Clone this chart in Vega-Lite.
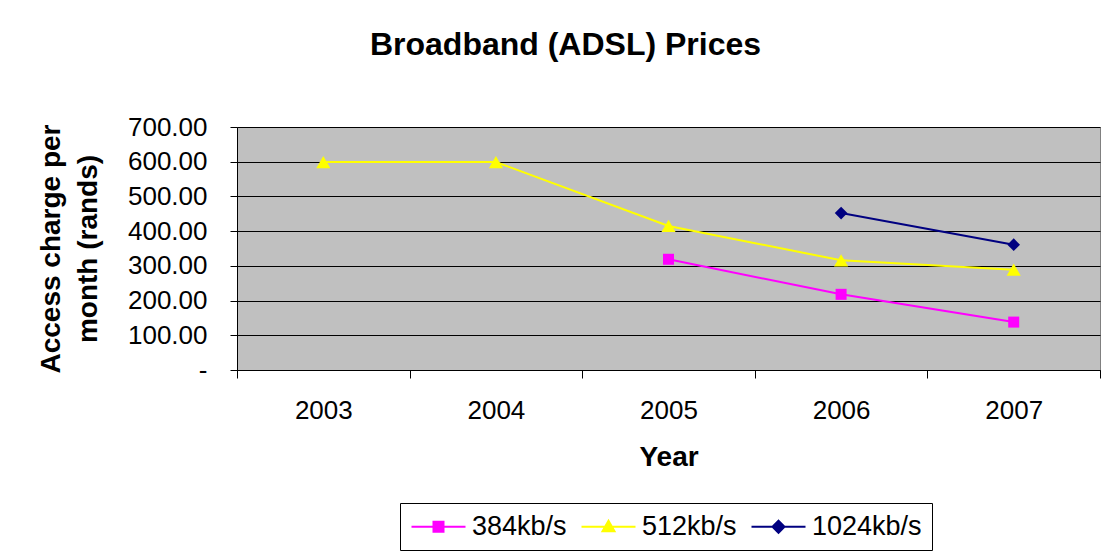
{
  "$schema": "https://vega.github.io/schema/vega-lite/v6.json",
  "autosize": {"type": "none"},
  "width": 863,
  "height": 243,
  "padding": {"left": 237, "top": 127, "right": 8, "bottom": 186},
  "background": "white",
  "config": {
    "font": "Liberation Sans",
    "view": {"fill": "#C0C0C0", "stroke": "#808080", "strokeWidth": 1}
  },
  "title": {
    "text": "Broadband (ADSL) Prices",
    "font": "Liberation Sans",
    "fontSize": 32,
    "fontWeight": "bold",
    "color": "black",
    "anchor": "middle",
    "frame": "group",
    "dx": -103,
    "offset": 52
  },
  "data": {
    "values": [
      {"year": "2003", "series": "512kb/s", "price": 599},
      {"year": "2004", "series": "512kb/s", "price": 599},
      {"year": "2005", "series": "512kb/s", "price": 415},
      {"year": "2006", "series": "512kb/s", "price": 316},
      {"year": "2007", "series": "512kb/s", "price": 289},
      {"year": "2005", "series": "384kb/s", "price": 319},
      {"year": "2006", "series": "384kb/s", "price": 218},
      {"year": "2007", "series": "384kb/s", "price": 138},
      {"year": "2006", "series": "1024kb/s", "price": 452},
      {"year": "2007", "series": "1024kb/s", "price": 361}
    ]
  },
  "encoding": {
    "x": {
      "field": "year",
      "type": "ordinal",
      "scale": {"type": "band", "paddingInner": 0, "paddingOuter": 0},
      "axis": {
        "title": "Year",
        "titleFont": "Liberation Sans",
        "titleFontSize": 28,
        "titleFontWeight": "bold",
        "titleColor": "black",
        "titlePadding": 20,
        "labelAngle": 0,
        "labelFont": "Liberation Sans",
        "labelFontSize": 26,
        "labelColor": "black",
        "labelPadding": 19,
        "tickBand": "extent",
        "tickSize": 8,
        "tickColor": "black",
        "domainColor": "black",
        "grid": false
      }
    },
    "y": {
      "field": "price",
      "type": "quantitative",
      "scale": {"domain": [0, 700], "nice": false},
      "axis": {
        "title": ["Access charge per", "month (rands)"],
        "titleFont": "Liberation Sans",
        "titleFontSize": 28,
        "titleFontWeight": "bold",
        "titleColor": "black",
        "titleLineHeight": 37,
        "titlePadding": 25,
        "values": [0, 100, 200, 300, 400, 500, 600, 700],
        "labelExpr": "datum.value == 0 ? '-' : format(datum.value, '.2f')",
        "labelFont": "Liberation Sans",
        "labelFontSize": 26,
        "labelColor": "black",
        "labelPadding": 23,
        "tickSize": 7,
        "tickColor": "black",
        "domainColor": "black",
        "grid": true,
        "gridColor": "black",
        "gridOpacity": 1,
        "gridWidth": 1
      }
    },
    "color": {
      "field": "series",
      "type": "nominal",
      "scale": {"domain": ["384kb/s", "512kb/s", "1024kb/s"], "range": ["#FF00FF", "#FFFF00", "#000080"]},
      "legend": {
        "title": null,
        "orient": "none",
        "legendX": 163,
        "legendY": 376,
        "direction": "horizontal",
        "strokeColor": "black",
        "fillColor": "white",
        "padding": 10,
        "symbolSize": 400,
        "symbolStrokeWidth": 2,
        "labelFont": "Liberation Sans",
        "labelFontSize": 27,
        "labelColor": "black",
        "labelOffset": 35,
        "columnPadding": 10,
        "encode": {
          "symbols": {
            "update": {
              "shape": {"signal": "datum.value === '384kb/s' ? 'M-1.2,0H4.2M1.0,-0.5H2.0V0.5H1.0Z' : datum.value === '512kb/s' ? 'M-1.2,0H4.2M1.5,-0.6L2.1,0.45H0.9Z' : 'M-1.2,0H4.2M1.5,-0.6L2.1,0L1.5,0.6L0.9,0Z'"},
              "fill": {"scale": "color", "field": "value"},
              "stroke": {"scale": "color", "field": "value"},
              "strokeWidth": {"value": 2},
              "opacity": {"value": 1}
            }
          }
        }
      }
    }
  },
  "layer": [
    {
      "mark": {"type": "line", "strokeWidth": 2}
    },
    {
      "transform": [{"filter": "datum.series === '384kb/s'"}],
      "mark": {"type": "point", "shape": "square", "size": 121, "filled": true, "opacity": 1}
    },
    {
      "transform": [{"filter": "datum.series === '512kb/s'"}],
      "mark": {"type": "point", "shape": "triangle-up", "size": 200, "filled": true, "opacity": 1}
    },
    {
      "transform": [{"filter": "datum.series === '1024kb/s'"}],
      "mark": {"type": "point", "shape": "diamond", "size": 160, "filled": true, "opacity": 1}
    }
  ]
}
